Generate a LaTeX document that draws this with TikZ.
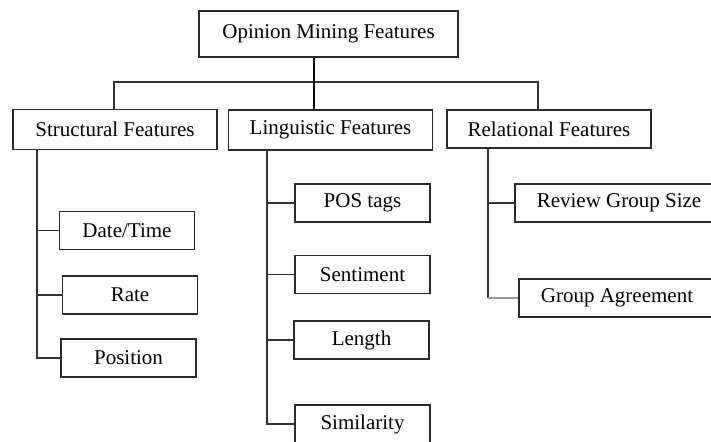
\documentclass[tikz,border=0pt]{standalone}
\usepackage{fontspec}
\setmainfont{Liberation Serif}
\usepackage{xcolor}
\definecolor{cLine}{HTML}{333333}
\definecolor{cEdge}{HTML}{2A2A2A}
\definecolor{cSoft}{HTML}{9A9A9A}
\usepackage{tikz}
\usetikzlibrary{positioning}

\begin{document}
\begin{tikzpicture}[
    x=0.5pt, y=-0.5pt,
    catbox/.style={draw=cEdge, line width=0.7pt, align=center, fill=white,
                   minimum width=102pt, minimum height=20pt,
                   inner sep=2pt, font=\fontsize{10.5}{12}\selectfont},
    leafbox/.style={catbox, minimum width=67.5pt, minimum height=19pt},
    link/.style={draw=cLine, line width=0.65pt},
    stem/.style={draw=black, line width=1pt}
]
\path[use as bounding box, clip] (0,0) rectangle (711,441);
\fill[white] (0,0) rectangle (711,441);

% root and categories
\node[catbox, minimum width=129.5pt, minimum height=23pt] (root) at (328.5,34) {Opinion Mining Features};
\node[catbox] (struct) at (115,129.5) {Structural Features};
\node[catbox] (ling) at (330.5,130) {Linguistic Features};
\node[catbox, minimum height=19pt] (rel) at (549,129) {Relational Features};

% leaves
\node[leafbox] (date) at (127,230.5) {Date/Time};
\node[leafbox] (rate) at (130,295) {Rate};
\node[leafbox] (pos) at (128.5,358) {Position};
\node[leafbox] (postag) at (362.5,203) {POS tags};
\node[leafbox] (sent) at (362.5,274.5) {Sentiment};
\node[leafbox] (len) at (361.5,340) {Length};
\node[leafbox] (sim) at (362.5,424) {Similarity};
\node[leafbox, minimum width=104pt] (rgs) at (619,203) {Review Group Size};
\node[leafbox, minimum width=98pt] (agree) at (617,298) {Group Agreement};

% bus and trunks
\coordinate (jL) at (114,82);
\coordinate (jM) at (314,82);
\coordinate (jR) at (538,82);
\coordinate (tS) at (37,0);
\coordinate (tL) at (267,0);
\coordinate (tR) at (488,0);

\draw[link] (jL |- struct.north) -- (jL) -- (jR) -- (jR |- rel.north);
\draw[stem] (root.south -| jM) -- (ling.north -| jM);

\draw[link] (struct.south -| tS) |- (pos.west);
\foreach \n in {date, rate}
  \draw[link] (\n.west -| tS) -- (\n.west);

\draw[link] (ling.south -| tL) |- (sim.west);
\foreach \n in {postag, sent, len}
  \draw[link] (\n.west -| tL) -- (\n.west);

\draw[link] (rel.south -| tR) -- (agree.west -| tR);
\draw[link] (rgs.west -| tR) -- (rgs.west);
\draw[link, draw=cSoft, line width=0.8pt] (agree.west -| tR) -- (agree.west);
\end{tikzpicture}
\end{document}
